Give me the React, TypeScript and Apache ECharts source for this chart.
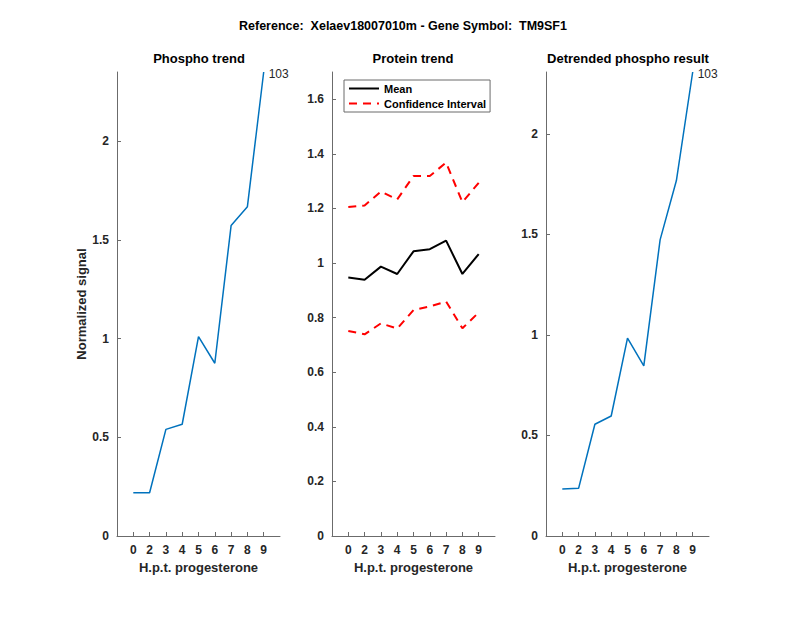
import React, { useEffect, useRef } from "react";
import * as echarts from "echarts";

const hours = ["0", "2", "3", "4", "5", "6", "7", "8", "9"];
const phospho = [0.219, 0.219, 0.54, 0.566, 1.01, 0.875, 1.572, 1.668, 2.35];
const proteinMean = [0.947, 0.939, 0.987, 0.96, 1.043, 1.051, 1.082, 0.96, 1.033];
const ciUpper = [1.205, 1.211, 1.262, 1.233, 1.319, 1.319, 1.368, 1.223, 1.294];
const ciLower = [0.751, 0.739, 0.779, 0.76, 0.828, 0.841, 0.859, 0.761, 0.819];
const detrended = [0.234, 0.237, 0.556, 0.597, 0.984, 0.846, 1.473, 1.768, 2.308];
const peptideLabel = "103";
const yTicks1 = [0, 0.5, 1, 1.5, 2];
const yTicks2 = [0, 0.2, 0.4, 0.6, 0.8, 1, 1.2, 1.4, 1.6];
const yTicks3 = [0, 0.5, 1, 1.5, 2];
const mainTitle = "Reference:  Xelaev18007010m - Gene Symbol:  TM9SF1";
const panelTitles = ["Phospho trend", "Protein trend", "Detrended phospho result"];
const xName = "H.p.t. progesterone";
const yName = "Normalized signal";

const FONT = "'Liberation Sans', Arial, Helvetica, sans-serif";
const AX = "#262626";
const xPos = hours.map((_, i) => i + 1);

function toData(vals: number[]) {
  return vals.map((v, i) => [xPos[i], v]);
}

const endLabel = {
  show: true,
  formatter: peptideLabel,
  distance: 5,
  offset: [0, 2],
  color: AX,
  fontSize: 12,
  fontFamily: FONT,
  fontWeight: "normal",
};

function xAxis(gridIndex: number) {
  return {
    type: "value",
    gridIndex,
    min: 0,
    max: 10,
    name: xName,
    nameLocation: "middle",
    nameGap: 24,
    nameTextStyle: { color: AX, fontSize: 13, fontWeight: "bold", fontFamily: FONT },
    axisLine: { show: true, lineStyle: { color: "#6b6b6b", width: 1 } },
    axisTick: { show: true, inside: true, length: 4, customValues: xPos, lineStyle: { color: "#6b6b6b" } },
    axisLabel: {
      customValues: xPos,
      formatter: (v: number) => hours[Math.round(v) - 1] ?? "",
      color: AX,
      fontSize: 12,
      fontWeight: "bold",
      fontFamily: FONT,
      margin: 8,
    },
    splitLine: { show: false },
  };
}

function yAxis(gridIndex: number, max: number, ticks: number[], named: boolean) {
  return {
    type: "value",
    gridIndex,
    min: 0,
    max,
    name: named ? yName : "",
    nameLocation: "middle",
    nameRotate: 90,
    nameGap: 24,
    nameTextStyle: { color: AX, fontSize: 13, fontWeight: "bold", fontFamily: FONT },
    axisLine: { show: true, lineStyle: { color: "#6b6b6b", width: 1 } },
    axisTick: { show: true, inside: true, length: 4, customValues: ticks, lineStyle: { color: "#6b6b6b" } },
    axisLabel: {
      customValues: ticks,
      formatter: (v: number) => String(Math.round(v * 10) / 10),
      color: AX,
      fontSize: 12,
      fontWeight: "bold",
      fontFamily: FONT,
      margin: 8,
    },
    splitLine: { show: false },
  };
}

export default function App() {
  const ref = useRef<HTMLDivElement>(null);
  useEffect(() => {
    if (!ref.current) return;
    const chart = echarts.init(ref.current, null, { renderer: "svg" });
    const titleStyle = { color: "#000", fontSize: 13, fontWeight: "bold", fontFamily: FONT };
    chart.setOption({
      animation: false,
      backgroundColor: "#fff",
      title: [
        { text: mainTitle, left: 398, top: 14, textAlign: "center", textStyle: { ...titleStyle, fontSize: 12.5 } },
        { text: panelTitles[0], left: 194, top: 47, textAlign: "center", textStyle: titleStyle },
        { text: panelTitles[1], left: 408, top: 47, textAlign: "center", textStyle: titleStyle },
        { text: panelTitles[2], left: 623, top: 47, textAlign: "center", textStyle: titleStyle },
      ],
      legend: {
        show: true,
        orient: "vertical",
        left: 344,
        top: 80,
        padding: [3, 4, 3, 4],
        itemGap: 4,
        itemWidth: 30,
        itemHeight: 10,
        borderColor: "#6b6b6b",
        borderWidth: 1,
        backgroundColor: "#fff",
        itemStyle: { opacity: 0 },
        data: ["Mean", "Confidence Interval"],
        textStyle: { color: "#000", fontSize: 11, fontWeight: "bold", fontFamily: FONT },
      },
      grid: [
        { left: 117, top: 72, width: 163, height: 464 },
        { left: 332, top: 72, width: 163, height: 464 },
        { left: 546, top: 72, width: 163, height: 464 },
      ],
      xAxis: [xAxis(0), xAxis(1), xAxis(2)],
      yAxis: [
        yAxis(0, 2.35, yTicks1, true),
        yAxis(1, 1.7, yTicks2, false),
        yAxis(2, 2.308, yTicks3, false),
      ],
      series: [
        {
          type: "line",
          name: "Phospho",
          xAxisIndex: 0,
          yAxisIndex: 0,
          data: toData(phospho),
          symbol: "none",
          endLabel,
          lineStyle: { color: "#0072BD", width: 1.5 },
          itemStyle: { color: "#0072BD" },
        },
        {
          type: "line",
          name: "Mean",
          xAxisIndex: 1,
          yAxisIndex: 1,
          data: toData(proteinMean),
          symbol: "none",
          lineStyle: { color: "#000", width: 2 },
          itemStyle: { color: "#000" },
        },
        {
          type: "line",
          name: "Confidence Interval",
          xAxisIndex: 1,
          yAxisIndex: 1,
          data: toData(ciUpper),
          symbol: "none",
          lineStyle: { color: "#FF0000", width: 2, type: [8, 6] },
          itemStyle: { color: "#FF0000" },
        },
        {
          type: "line",
          name: "Confidence Interval",
          xAxisIndex: 1,
          yAxisIndex: 1,
          data: toData(ciLower),
          symbol: "none",
          lineStyle: { color: "#FF0000", width: 2, type: [8, 6] },
          itemStyle: { color: "#FF0000" },
        },
        {
          type: "line",
          name: "Detrended",
          xAxisIndex: 2,
          yAxisIndex: 2,
          data: toData(detrended),
          symbol: "none",
          endLabel,
          lineStyle: { color: "#0072BD", width: 1.5 },
          itemStyle: { color: "#0072BD" },
        },
      ],
    });
    return () => chart.dispose();
  }, []);
  return (
    <div
      ref={ref}
      style={{ position: "fixed", left: 0, top: 0, width: 800, height: 618 }}
    />
  );
}
